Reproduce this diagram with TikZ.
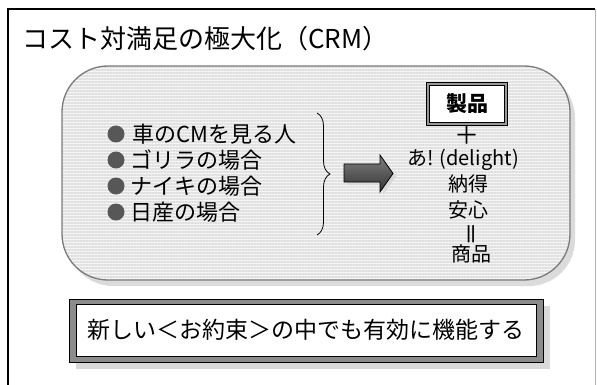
\documentclass[tikz,border=0pt]{standalone}
\usepackage{fontspec}
\setmainfont{Noto Sans CJK JP}
\usetikzlibrary{shadows,patterns.meta,decorations.pathreplacing}
\tikzset{
  panel/.style={rectangle, rounded corners=46pt, draw=black!52, line width=1.3pt,
    minimum width=508pt, minimum height=214pt, inner sep=0pt,
    drop shadow={fill=black!14, shadow xshift=5pt, shadow yshift=-6pt, opacity=1},
    preaction={fill=black!4},
    pattern={Lines[angle=0,distance=3pt,line width=1.1pt]}, pattern color=black!12},
  bul/.style={circle, fill=black!66, inner sep=0pt, minimum size=17pt},
  itemtext/.style={anchor=west, inner sep=0pt, font=\fontsize{22}{24}\selectfont},
  coltext/.style={inner sep=0pt, text height=14pt, text depth=3pt, font=\fontsize{20}{22}\selectfont},
  prodbox/.style={draw=black, line width=0.6pt, double=black!40, double distance=2.2pt,
    fill=white, minimum width=78pt, minimum height=40pt, inner sep=0pt,
    font=\bfseries\fontsize{21}{24}\selectfont},
  outerframe/.style={draw=black, line width=0.9pt, fill=black!45,
    minimum width=474pt, minimum height=63pt, inner sep=0pt,
    drop shadow={fill=black!15, shadow xshift=7pt, shadow yshift=-7pt, opacity=1}},
  innerframe/.style={draw=black, line width=0.7pt, fill=white,
    minimum width=460pt, minimum height=52pt, inner sep=0pt,
    font=\fontsize{23}{26}\selectfont},
  bigarrow/.style={draw=black, line width=0.8pt, top color=black!50, bottom color=black!80,
    drop shadow={fill=black!15, shadow xshift=3pt, shadow yshift=-3pt, opacity=1}}
}
\begin{document}
\begin{tikzpicture}[x=1pt,y=-1pt]
\useasboundingbox (0,0) rectangle (597,385);
% page frame
\draw[line width=1.6pt] (8,385) -- (8,9) -- (595,9);
\draw[black!30, line width=1pt] (595,9) -- (595,385);
% title
\node[anchor=west, inner sep=0pt, font=\fontsize{26}{28}\selectfont] (title) at (22,39) {コスト対満足の極大化（CRM）};
% panel
\node[panel] (panel) at (316,173) {};
% bullets
\node[bul] (b1) at (116,134) {};
\node[bul] (b2) at (116,160) {};
\node[bul] (b3) at (116,186) {};
\node[bul] (b4) at (116,212) {};
\node[itemtext] (t1) at (132,134) {車のCMを見る人};
\node[itemtext] (t2) at (130,160) {ゴリラの場合};
\node[itemtext] (t3) at (130,186) {ナイキの場合};
\node[itemtext] (t4) at (130,212) {日産の場合};
% brace
\coordinate (bt) at (317,113);
\coordinate (bb) at (317,235);
\draw[line width=0.8pt, decorate, decoration={brace, amplitude=13pt}] (bt) -- (bb);
% arrow
\path[bigarrow] (344,164) -- (380,164) -- (380,155) -- (393,173.5) -- (380,192) -- (380,182) -- (344,182) -- cycle;
% right column
\node[prodbox] (prod) at (467,104) {製品};
\node[inner sep=0pt, text height=12pt, text depth=0pt, font=\fontsize{25}{26}\selectfont] (plus) at (467,139) {＋};
\node[coltext] (delight) at (463,160) {あ! (delight)};
\node[coltext] (nattoku) at (468,186) {納得};
\node[coltext] (anshin) at (468,212) {安心};
\node[inner sep=0pt, text height=11pt, text depth=1pt, font=\bfseries\fontsize{15}{18}\selectfont] (eq) at (471,233) {|\kern-0.3pt|};
\node[coltext] (shohin) at (471,256) {商品};
% bottom box
\node[outerframe] (bot) at (306,330.5) {};
\node[innerframe] (botin) at (306,330) {新しい＜お約束＞の中でも有効に機能する};
\end{tikzpicture}
\end{document}
